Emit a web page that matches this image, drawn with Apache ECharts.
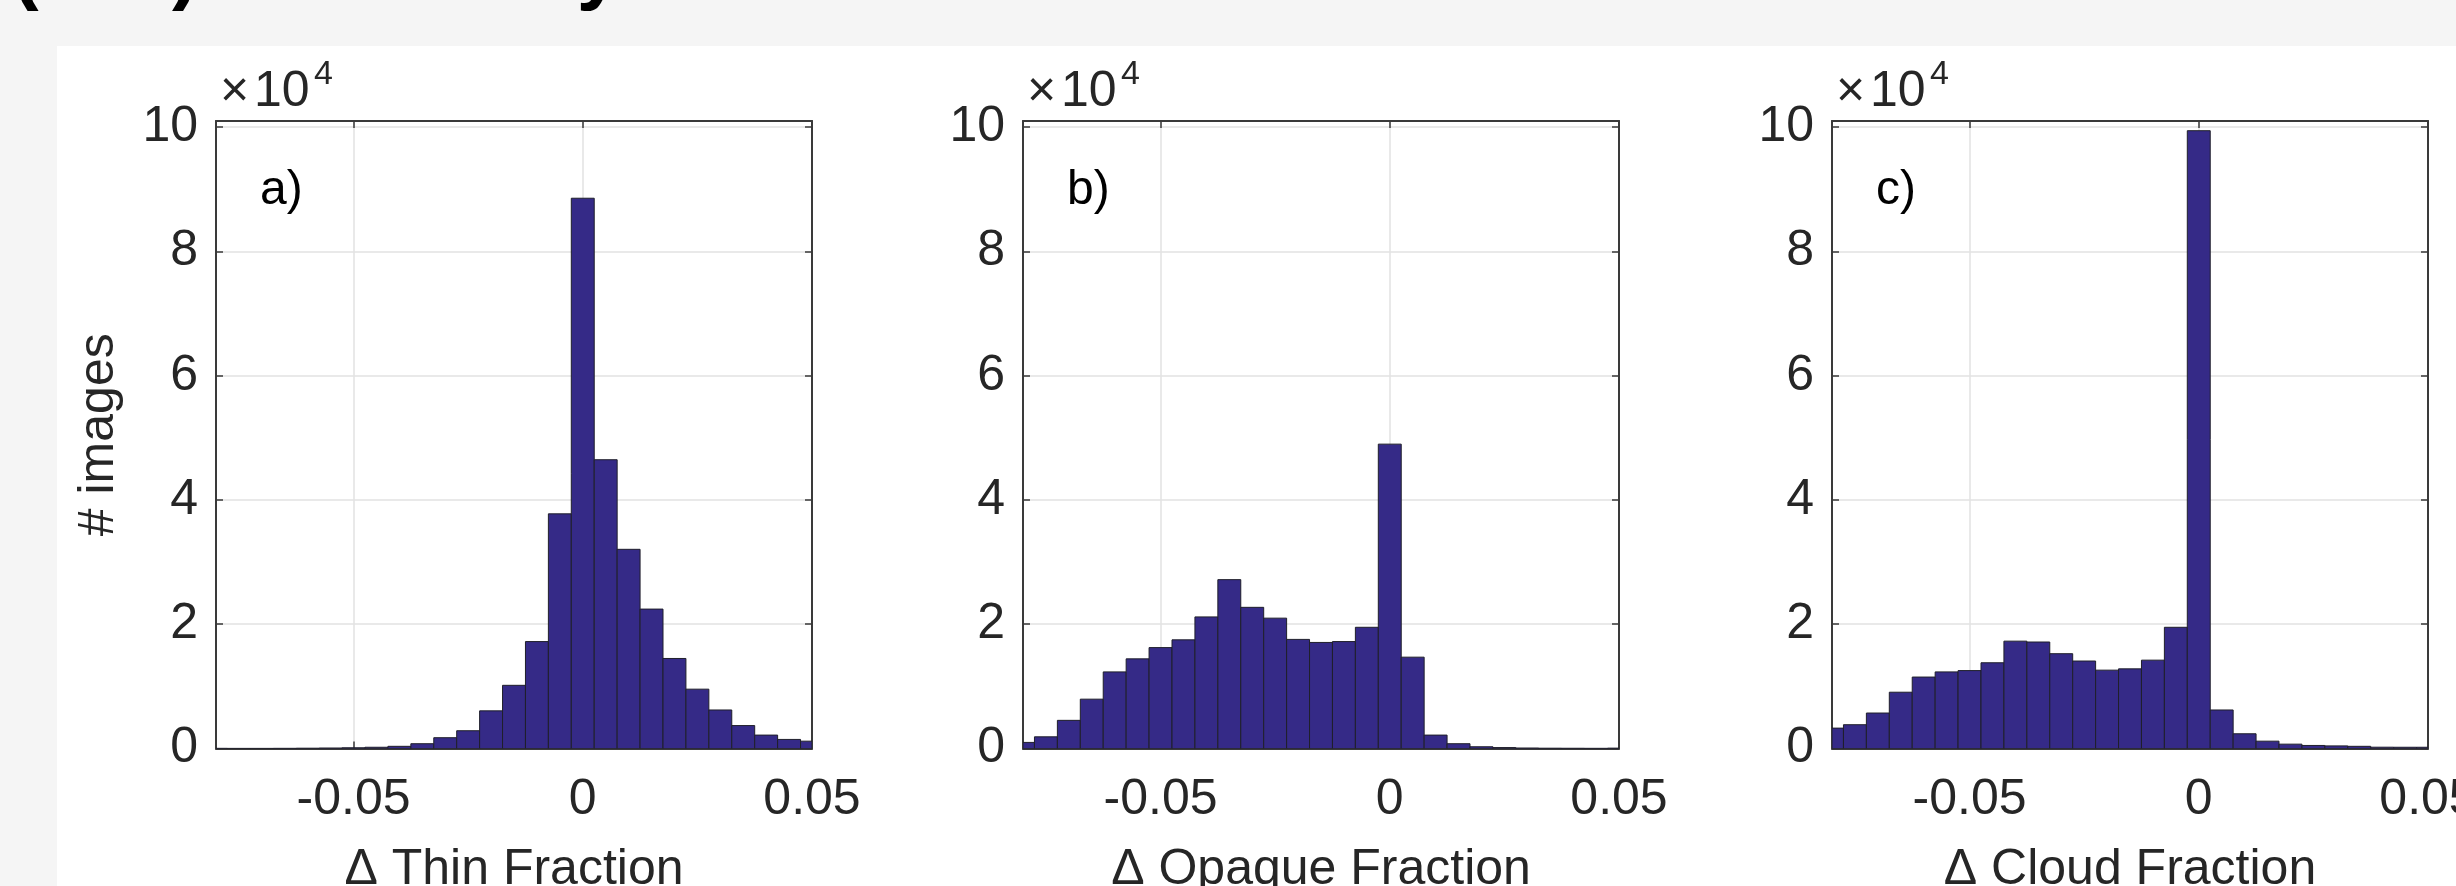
<!DOCTYPE html>
<html>
<head>
<meta charset="utf-8">
<script src="https://cdn.jsdelivr.net/npm/echarts@6/dist/echarts.min.js"></script>
<style>
  html, body { margin: 0; padding: 0; background: #f5f5f5; }
  #chart { width: 2456px; height: 886px; }
</style>
</head>
<body>
<div id="chart"></div>
<script>
// histogram bins (centres), same binning for all three panels
const binCenters = [-0.080, -0.075, -0.070, -0.065, -0.060, -0.055, -0.050, -0.045, -0.040,
  -0.035, -0.030, -0.025, -0.020, -0.015, -0.010, -0.005, 0, 0.005, 0.010, 0.015, 0.020,
  0.025, 0.030, 0.035, 0.040, 0.045, 0.050];

// counts (# images) per bin
const thinCounts = [30, 20, 20, 30, 50, 80, 120, 200, 350, 770, 1740, 2860, 6060, 10170,
  17210, 37770, 88570, 46480, 32060, 22440, 14490, 9550, 6200, 3690, 2160, 1460, 1180];
const opaqueCounts = [980, 1880, 4530, 7940, 12330, 14430, 16240, 17490, 21180, 27180, 22720,
  20980, 17560, 17070, 17210, 19510, 48990, 14700, 2160, 770, 280, 150, 80, 50, 40, 30, 60];
const cloudCounts = [3280, 3830, 5710, 9060, 11500, 12330, 12540, 13800, 17280, 17140, 15260,
  14080, 12610, 12820, 14220, 19510, 99440, 6200, 2370, 1180, 700, 490, 420, 350, 210, 200, 200];

const panelLetters = ['a)', 'b)', 'c)'];
const xAxisNames = ['\u0394 Thin Fraction', '\u0394 Opaque Fraction', '\u0394 Cloud Fraction'];
const xTickValues = [-0.05, 0, 0.05];
const yTickValues = [0, 20000, 40000, 60000, 80000, 100000];
const yAxisName = '# images';

const BIN_WIDTH = 0.005;
const FONT = '"Liberation Sans", Arial, Helvetica, sans-serif';
const TEXT = '#262626';
const AXIS = '#3a3a3a';
const BAR_FILL = '#352a87';
const BAR_EDGE = '#1f1f2a';

const gridLefts = [216, 1023, 1832];
const GRID_W = 596;
const GRID_TOP = 121;
const GRID_BOTTOM = 137.5;

const chart = echarts.init(document.getElementById('chart'));

function renderBar(params, api) {
  const c = api.value(0);
  const n = api.value(1);
  const p0 = api.coord([c - BIN_WIDTH / 2, n]);
  const p1 = api.coord([c + BIN_WIDTH / 2, 0]);
  const cs = params.coordSys;
  const shape = echarts.graphic.clipRectByRect(
    { x: p0[0], y: p0[1], width: p1[0] - p0[0], height: p1[1] - p0[1] },
    { x: cs.x, y: cs.y, width: cs.width, height: cs.height }
  );
  if (!shape) return;
  return {
    type: 'rect',
    shape: shape,
    style: { fill: BAR_FILL, stroke: BAR_EDGE, lineWidth: 1 }
  };
}

const lineStyle = { color: AXIS, width: 2 };
const tickStyle = { color: AXIS, width: 1.5 };
const labelStyle = { color: TEXT, fontFamily: FONT, fontSize: 50, lineHeight: 50 };

let grids = [], xAxes = [], yAxes = [], series = [], graphics = [];

graphics.push({
  type: 'rect', z: -100,
  shape: { x: 57, y: 46, width: 2456 - 57, height: 886 - 46 },
  style: { fill: '#ffffff' }
});
// heading of the page, cut off at the top
graphics.push({
  type: 'text', x: 12, y: -28,
  style: { text: '(a\u2013c) Sensitivity', font: 'bold 80px ' + FONT, fill: '#000',
    verticalAlign: 'middle' }
});

[thinCounts, opaqueCounts, cloudCounts].forEach(function (counts, i) {
  const left = gridLefts[i];
  // fixed plot boxes: labels and names may run past the canvas like in the original
  grids.push({ left: left, width: GRID_W, top: GRID_TOP, bottom: GRID_BOTTOM,
    outerBoundsMode: 'none', containLabel: false });

  xAxes.push({
    gridIndex: i, type: 'value', position: 'bottom', min: -0.08, max: 0.05,
    axisLine: { show: true, onZero: false, lineStyle: lineStyle },
    axisTick: { show: true, inside: true, length: 7, customValues: xTickValues, lineStyle: tickStyle },
    axisLabel: Object.assign({ customValues: xTickValues, margin: 27,
      formatter: function (v) { return v === 0 ? '0' : v.toFixed(2); } }, labelStyle),
    splitLine: { show: true, lineStyle: { color: '#e2e2e2', width: 1.5 } },
    name: xAxisNames[i], nameLocation: 'middle', nameGap: 97,
    nameTextStyle: labelStyle
  });
  xAxes.push({
    gridIndex: i, type: 'value', position: 'top', min: -0.08, max: 0.05,
    axisLine: { show: true, onZero: false, lineStyle: lineStyle },
    axisTick: { show: true, inside: true, length: 7, customValues: xTickValues, lineStyle: tickStyle },
    axisLabel: { show: false },
    splitLine: { show: false }
  });

  yAxes.push({
    gridIndex: i, type: 'value', position: 'left', min: 0, max: 101000,
    axisLine: { show: true, onZero: false, lineStyle: lineStyle },
    axisTick: { show: true, inside: true, length: 7, customValues: yTickValues, lineStyle: tickStyle },
    axisLabel: Object.assign({ customValues: yTickValues, margin: 18,
      formatter: function (v) { return String(v / 10000); } }, labelStyle),
    splitLine: { show: true, lineStyle: { color: '#e2e2e2', width: 1.5 } },
    name: i === 0 ? yAxisName : '', nameLocation: 'middle', nameGap: 92,
    nameTextStyle: labelStyle
  });
  yAxes.push({
    gridIndex: i, type: 'value', position: 'right', min: 0, max: 101000,
    axisLine: { show: true, onZero: false, lineStyle: lineStyle },
    axisTick: { show: true, inside: true, length: 7, customValues: yTickValues, lineStyle: tickStyle },
    axisLabel: { show: false },
    splitLine: { show: false }
  });

  series.push({
    type: 'custom',
    xAxisIndex: 2 * i, yAxisIndex: 2 * i,
    renderItem: renderBar,
    clip: true,
    data: binCenters.map(function (c, k) { return [c, counts[k]]; })
  });

  // exponent label above the y axis, panel letter inside
  graphics.push({
    type: 'text', x: left + 4, y: 92,
    style: { text: '\u00d7', font: '50px ' + FONT, fill: TEXT, verticalAlign: 'middle' }
  });
  graphics.push({
    type: 'text', x: left + 38, y: 92,
    style: { text: '10', font: '50px ' + FONT, fill: TEXT, verticalAlign: 'middle' }
  });
  graphics.push({
    type: 'text', x: left + 98, y: 75,
    style: { text: '4', font: '34px ' + FONT, fill: TEXT, verticalAlign: 'middle' }
  });
  graphics.push({
    type: 'text', x: left + 44, y: 191,
    style: { text: panelLetters[i], font: '48px ' + FONT, fill: '#000', verticalAlign: 'middle' }
  });
});

chart.setOption({
  animation: false,
  backgroundColor: '#f5f5f5',
  grid: grids,
  xAxis: xAxes,
  yAxis: yAxes,
  series: series,
  graphic: graphics
});
</script>
</body>
</html>
